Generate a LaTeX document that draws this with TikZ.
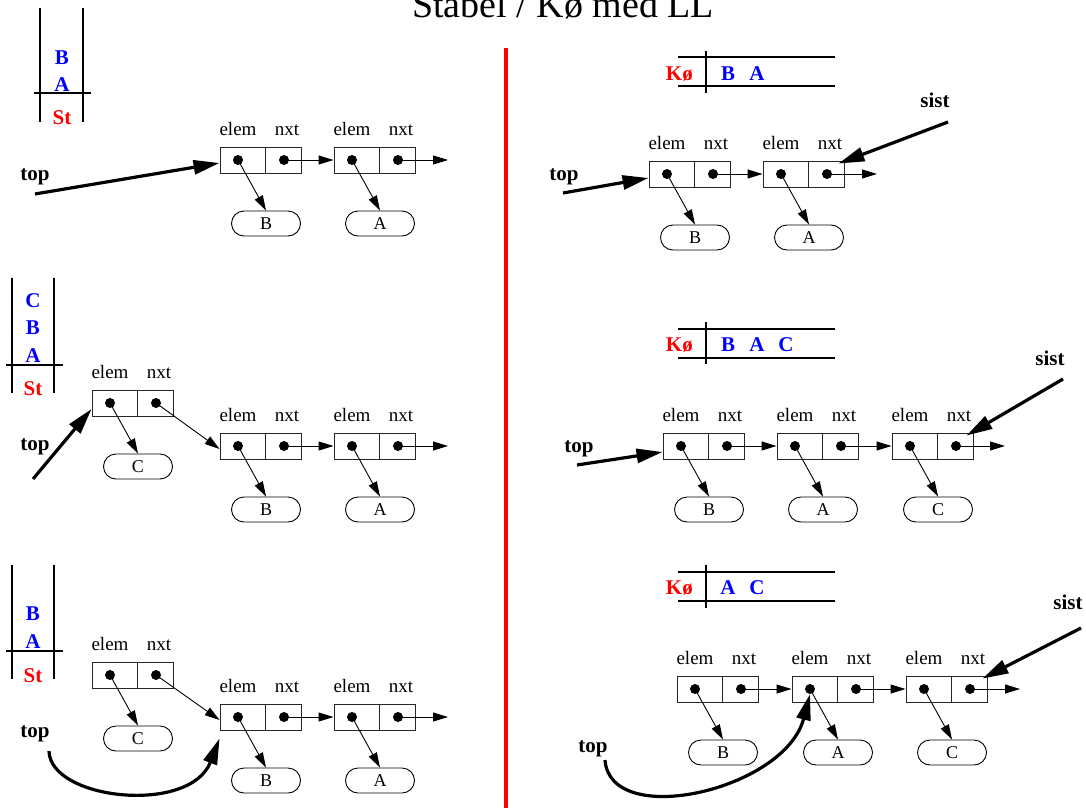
\documentclass[tikz,border=0pt]{standalone}
\usepackage{fontspec}
\setmainfont{Liberation Serif}
\usetikzlibrary{arrows.meta}

% one list cell: name, left x, centre y
\newcommand\listcell[3]{%
  \node[box] (#1) at (#2+40.5,#3) {};
  \draw[boxline] (#1.north west) ++(46,0) -- ++(0,26);
  \node[dotn] (#1e) at (#2+18,#3) {};
  \node[dotn] (#1n) at (#2+64,#3) {};
  \node[fieldlbl] (#1le) at (#2+18,#3-25) {elem};
  \node[fieldlbl] (#1ln) at (#2+67,#3-25) {nxt};
}
% one element value: name, centre x, centre y, text
\newcommand\listval[4]{\node[valnode] (#1) at (#2,#3) {#4};}

\begin{document}
\begin{tikzpicture}[x=1pt,y=-1pt,
  boxline/.style={draw=black!85, line width=0.9pt},
  box/.style={boxline, minimum width=81pt, minimum height=26pt, inner sep=0pt},
  dotn/.style={circle, fill=black, inner sep=0pt, minimum size=10pt},
  fieldlbl/.style={anchor=base, font=\fontsize{19}{22}\selectfont, inner sep=0pt},
  valnode/.style={draw=black, line width=0.9pt, rounded corners=12.5pt,
    minimum width=69pt, minimum height=25pt, inner sep=0pt,
    font=\fontsize{18}{20}\selectfont},
  ptr/.style={line width=0.9pt, -{Triangle[length=15pt,width=9pt]}},
  bigptr/.style={line width=3.2pt, -{Triangle[length=26pt,width=14pt]}},
  boldlbl/.style={anchor=base, font=\fontsize{21}{24}\selectfont\bfseries, inner sep=0pt},
  stk/.style={line width=1.8pt},
  qitem/.style={boldlbl, text=blue},
  qname/.style={boldlbl, text=red},
]
\useasboundingbox (0,0) rectangle (1086,808);

% title and divider
\node[anchor=base west, inner sep=0pt, font=\fontsize{38}{40}\selectfont] (title) at (412,18) {Stabel / Kø med LL};
\draw[red, line width=4pt] (506,48) -- (506,808);

%%%%%%%%%%%%%%%% stack, step 1
\draw[stk] (40,8) -- (40,122) (83,8) -- (83,122) (34,93) -- (91,93);
\node[qitem] (s1b) at (62,64) {B};
\node[qitem] (s1a) at (62,91) {A};
\node[qname] (s1st) at (62,124) {St};

\listcell{lab}{220}{160}
\listcell{laa}{334}{160}
\listval{lavb}{266}{223.5}{B}
\listval{lava}{380}{223.5}{A}
\coordinate (laend) at (448,160);
\draw[ptr] (labn.center) -- (laa.west);
\draw[ptr] (laan.center) -- (laend);
\draw[ptr] (labe.center) -- (lavb.north);
\draw[ptr] (laae.center) -- (lava.north);
\node[boldlbl] (latop) at (35,180) {top};
\coordinate (latail) at (35,194);
\draw[bigptr] (latail) -- ([yshift=-3pt]lab.west);

%%%%%%%%%%%%%%%% stack, step 2
\draw[stk] (12,278) -- (12,393) (54,278) -- (54,393) (6,365) -- (63,365);
\node[qitem] (s2c) at (33,307) {C};
\node[qitem] (s2b) at (33,334) {B};
\node[qitem] (s2a) at (33,362) {A};
\node[qname] (s2st) at (33,395) {St};

\listcell{lbc}{92}{403}
\listcell{lbb}{220}{446}
\listcell{lba}{334}{446}
\listval{lbvc}{138}{466.5}{C}
\listval{lbvb}{266}{509.5}{B}
\listval{lbva}{380}{509.5}{A}
\coordinate (lbend) at (448,446);
\draw[ptr] (lbcn.center) -- ([yshift=-3pt]lbb.west);
\draw[ptr] (lbbn.center) -- (lba.west);
\draw[ptr] (lban.center) -- (lbend);
\draw[ptr] (lbce.center) -- (lbvc.north);
\draw[ptr] (lbbe.center) -- (lbvb.north);
\draw[ptr] (lbae.center) -- (lbva.north);
\node[boldlbl] (lbtop) at (35,450) {top};
\coordinate (lbtail) at (33,479);
\draw[bigptr] (lbtail) -- ([yshift=-6pt]lbc.west);

%%%%%%%%%%%%%%%% stack, step 3
\draw[stk] (12,565) -- (12,679) (54,565) -- (54,679) (6,651) -- (63,651);
\node[qitem] (s3b) at (33,620) {B};
\node[qitem] (s3a) at (33,648) {A};
\node[qname] (s3st) at (33,682) {St};

\listcell{lcc}{92}{675}
\listcell{lcb}{220}{717}
\listcell{lca}{334}{717}
\listval{lcvc}{138}{738.5}{C}
\listval{lcvb}{266}{780.5}{B}
\listval{lcva}{380}{780.5}{A}
\coordinate (lcend) at (448,717);
\draw[ptr] (lccn.center) -- ([yshift=-3pt]lcb.west);
\draw[ptr] (lcbn.center) -- (lca.west);
\draw[ptr] (lcan.center) -- (lcend);
\draw[ptr] (lcce.center) -- (lcvc.north);
\draw[ptr] (lcbe.center) -- (lcvb.north);
\draw[ptr] (lcae.center) -- (lcva.north);
\node[boldlbl] (lctop) at (35,737) {top};
\coordinate (lctail) at (49,751);
\draw[bigptr] (lctail) .. controls (50,800) and (190,815) .. ([yshift=-8pt]lcb.south west);

%%%%%%%%%%%%%%%% queue, step 1
\draw[stk] (678,57) -- (835,57) (678,86) -- (835,86) (706,51) -- (706,93);
\node[qname, anchor=base east] (q1k) at (693,80) {Kø};
\node[qitem] (q1b) at (728,80) {B};
\node[qitem] (q1a) at (757,80) {A};

\listcell{rab}{649}{174}
\listcell{raa}{763}{174}
\listval{ravb}{695}{237.5}{B}
\listval{rava}{809}{237.5}{A}
\coordinate (raend) at (877,174);
\draw[ptr] (rabn.center) -- (raa.west);
\draw[ptr] (raan.center) -- (raend);
\draw[ptr] (rabe.center) -- (ravb.north);
\draw[ptr] (raae.center) -- (rava.north);
\node[boldlbl] (ratop) at (564,180) {top};
\coordinate (ratail) at (563,193);
\draw[bigptr] (ratail) -- ([yshift=-4pt]rab.west);
\node[boldlbl] (rasist) at (935,107) {sist};
\coordinate (rasisttail) at (948,122);
\draw[bigptr] (rasisttail) -- ([shift={(-6,3)}]raa.north east);

%%%%%%%%%%%%%%%% queue, step 2
\draw[stk] (678,329) -- (835,329) (678,358) -- (835,358) (706,322) -- (706,364);
\node[qname, anchor=base east] (q2k) at (693,351) {Kø};
\node[qitem] (q2b) at (728,351) {B};
\node[qitem] (q2a) at (757,351) {A};
\node[qitem] (q2c) at (786,351) {C};

\listcell{rbb}{663}{446}
\listcell{rba}{777}{446}
\listcell{rbc}{892}{446}
\listval{rbvb}{709}{509.5}{B}
\listval{rbva}{823}{509.5}{A}
\listval{rbvc}{938}{509.5}{C}
\coordinate (rbend) at (1005,446);
\draw[ptr] (rbbn.center) -- (rba.west);
\draw[ptr] (rban.center) -- (rbc.west);
\draw[ptr] (rbcn.center) -- (rbend);
\draw[ptr] (rbbe.center) -- (rbvb.north);
\draw[ptr] (rbae.center) -- (rbva.north);
\draw[ptr] (rbce.center) -- (rbvc.north);
\node[boldlbl] (rbtop) at (579,452) {top};
\coordinate (rbtail) at (577,465);
\draw[bigptr] (rbtail) -- ([yshift=-6pt]rbb.west);
\node[boldlbl] (rbsist) at (1050,365) {sist};
\coordinate (rbsisttail) at (1063,379);
\draw[bigptr] (rbsisttail) -- ([shift={(-7,3)}]rbc.north east);

%%%%%%%%%%%%%%%% queue, step 3
\draw[stk] (678,572) -- (835,572) (678,601) -- (835,601) (706,565) -- (706,608);
\node[qname, anchor=base east] (q3k) at (693,594) {Kø};
\node[qitem] (q3a) at (728,594) {A};
\node[qitem] (q3c) at (757,594) {C};

\listcell{rcb}{677}{689}
\listcell{rca}{792}{689}
\listcell{rcc}{906}{689}
\listval{rcvb}{723}{752.5}{B}
\listval{rcva}{838}{752.5}{A}
\listval{rcvc}{952}{752.5}{C}
\coordinate (rcend) at (1020,689);
\draw[ptr] (rcbn.center) -- (rca.west);
\draw[ptr] (rcan.center) -- (rcc.west);
\draw[ptr] (rccn.center) -- (rcend);
\draw[ptr] (rcbe.center) -- (rcvb.north);
\draw[ptr] (rcae.center) -- (rcva.north);
\draw[ptr] (rcce.center) -- (rcvc.north);
\node[boldlbl] (rctop) at (593,752) {top};
\coordinate (rctail) at (605,760);
\draw[bigptr] (rctail) .. controls (610,830) and (785,790) .. (rcae.south);
\node[boldlbl] (rcsist) at (1068,609) {sist};
\coordinate (rcsisttail) at (1081,628);
\draw[bigptr] (rcsisttail) -- ([shift={(-5,3)}]rcc.north east);
\end{tikzpicture}
\end{document}
